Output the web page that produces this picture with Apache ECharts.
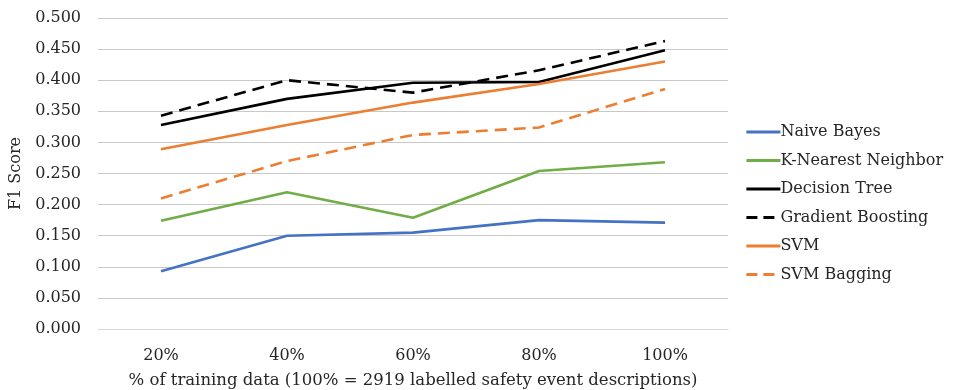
<!DOCTYPE html>
<html>
<head>
<meta charset="utf-8">
<script src="https://cdn.jsdelivr.net/npm/echarts@6/dist/echarts.min.js"></script>
<style>
  html, body { margin: 0; padding: 0; background: #fff; }
  #chart { width: 954px; height: 390px; }
</style>
</head>
<body>
<div id="chart"></div>
<script>
// Training data share (x axis categories)
const categories = ['20%', '40%', '60%', '80%', '100%'];

// F1 score per classifier
const naiveBayes       = [0.093, 0.150, 0.155, 0.175, 0.171];
const kNearestNeighbor = [0.174, 0.220, 0.179, 0.254, 0.268];
const decisionTree     = [0.328, 0.370, 0.396, 0.397, 0.448];
const gradientBoosting = [0.343, 0.400, 0.380, 0.416, 0.463];
const svm              = [0.289, 0.328, 0.364, 0.394, 0.430];
const svmBagging       = [0.210, 0.270, 0.312, 0.324, 0.386];

const FONT = 'DejaVu Serif';
const TEXT = '#262626';
const DASH = [12, 7];

function line(name, data, color, dashed) {
  return {
    name: name,
    type: 'line',
    data: data,
    symbol: 'none',
    lineStyle: { color: color, width: 2.6, type: dashed ? DASH : 'solid', cap: 'butt' },
    itemStyle: { color: color },
    emphasis: { disabled: true }
  };
}

function legendItem(name, dashed) {
  return { name: name, lineStyle: { width: 2.8, type: dashed ? [11, 6] : 'solid' } };
}

const chart = echarts.init(document.getElementById('chart'), null, { renderer: 'canvas' });
chart.setOption({
  animation: false,
  backgroundColor: '#ffffff',
  textStyle: { fontFamily: FONT, color: TEXT },
  grid: { left: 98, right: 226, top: 18, bottom: 61, outerBoundsMode: 'none', containLabel: false },
  legend: {
    orient: 'vertical',
    left: 740,
    top: 119,
    itemWidth: 34,
    itemHeight: 14,
    itemGap: 12.5,
    itemStyle: { opacity: 0 },
    textStyle: { fontFamily: FONT, fontSize: 16, color: TEXT, padding: [0, 0, 0, -5] },
    data: [
      legendItem('Naive Bayes', false),
      legendItem('K-Nearest Neighbor', false),
      legendItem('Decision Tree', false),
      legendItem('Gradient Boosting', true),
      legendItem('SVM', false),
      legendItem('SVM Bagging', true)
    ]
  },
  xAxis: {
    type: 'category',
    data: categories,
    boundaryGap: true,
    name: '% of training data (100% = 2919 labelled safety event descriptions)',
    nameLocation: 'middle',
    nameGap: 43,
    nameTextStyle: { fontFamily: FONT, fontSize: 16.5, color: TEXT },
    axisLine: { show: true, lineStyle: { color: '#d9d9d9', width: 1 } },
    axisTick: { show: false },
    axisLabel: { fontFamily: FONT, fontSize: 16, color: TEXT, margin: 19 }
  },
  yAxis: {
    type: 'value',
    min: 0,
    max: 0.5,
    interval: 0.05,
    name: 'F1 Score',
    nameLocation: 'middle',
    nameGap: 66,
    nameRotate: 90,
    nameTextStyle: { fontFamily: FONT, fontSize: 16, color: TEXT },
    axisLine: { show: false },
    axisTick: { show: false },
    splitLine: { lineStyle: { color: '#c8c8c8', width: 1 } },
    axisLabel: {
      fontFamily: FONT, fontSize: 16, color: TEXT, margin: 17,
      formatter: v => v.toFixed(3)
    }
  },
  series: [
    line('Naive Bayes', naiveBayes, '#4472C4', false),
    line('K-Nearest Neighbor', kNearestNeighbor, '#70AD47', false),
    line('Decision Tree', decisionTree, '#000000', false),
    line('Gradient Boosting', gradientBoosting, '#000000', true),
    line('SVM', svm, '#ED7D31', false),
    line('SVM Bagging', svmBagging, '#ED7D31', true)
  ]
});
</script>
</body>
</html>
